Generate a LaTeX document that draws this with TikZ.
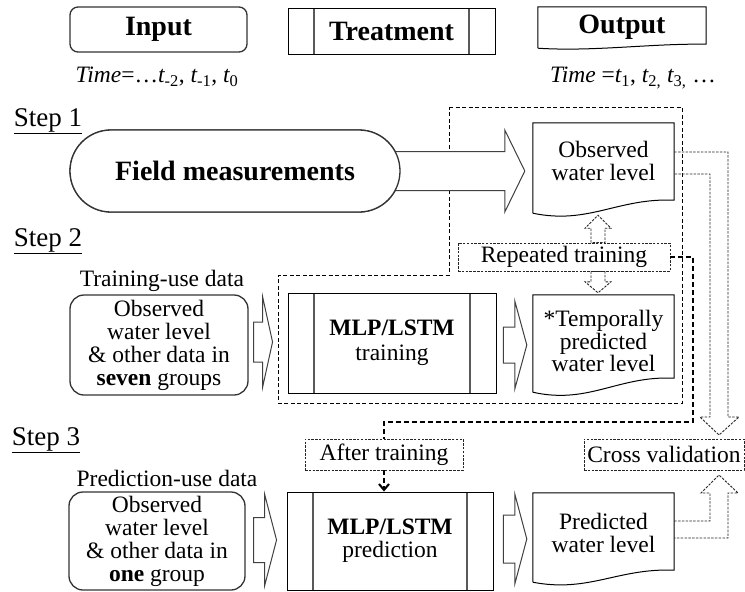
\documentclass[tikz,border=0pt]{standalone}
\usepackage{fontspec}
\setmainfont{Liberation Serif}
\usetikzlibrary{arrows.meta,calc,backgrounds}

% document outline with a wavy bottom edge
\newcommand{\docwave}[2]{%
  \draw[docline] (#1.south west) -- (#1.north west) -- (#1.north east) -- ([yshift=#2]#1.south east)
    .. controls ([xshift=-56pt,yshift=1.2*#2]#1.south east) and ([xshift=56pt,yshift=-0.9*#2]#1.south west) .. (#1.south west);}

% hollow block arrow, left to right
\newcommand{\hblockarrow}[5]{%
  \draw[blockarrow] let \p1=(#1), \p2=(#2) in
    (\x1,\y1+#3) -- (\x2-#5,\y1+#3) -- (\x2-#5,\y1+#4) -- (\x2,\y1)
    -- (\x2-#5,\y1-#4) -- (\x2-#5,\y1-#3) -- (\x1,\y1-#3) -- cycle;}

% hollow dotted block arrow, vertical
\newcommand{\vblockarrow}[5]{%
  \draw[dotarrow] let \p1=(#1), \p2=(#2) in
    (\x1-#3,\y1) -- (\x1-#3,\y2+#5) -- (\x1-#4,\y2+#5) -- (\x1,\y2)
    -- (\x1+#4,\y2+#5) -- (\x1+#3,\y2+#5) -- (\x1+#3,\y1) -- cycle;}

\begin{document}
\begin{tikzpicture}[x=1pt, y=-1pt,
  font=\fontsize{23.5}{23}\selectfont,
  every node/.style={inner sep=2pt},
  titlefont/.style={font=\fontsize{28}{28}\selectfont\bfseries},
  steplabel/.style={font=\fontsize{27}{27}\selectfont},
  roundbox/.style={draw=black!80, line width=1.3pt, rounded corners=14pt, align=center, fill=white},
  procbox/.style={draw, line width=0.9pt, align=center, fill=white,
    path picture={\draw[black!65, line width=1.1pt]
      ([xshift=26pt]path picture bounding box.north west) -- ([xshift=26pt]path picture bounding box.south west)
      ([xshift=-26pt]path picture bounding box.north east) -- ([xshift=-26pt]path picture bounding box.south east);}},
  docbox/.style={align=center, minimum width=141pt},
  docline/.style={draw, line width=1pt},
  notebox/.style={draw=black!85, line width=0.9pt, dash pattern=on 2.5pt off 1.3pt, inner xsep=3pt, fill=white},
  frameline/.style={line width=1pt, dash pattern=on 4pt off 2.5pt},
  blockarrow/.style={draw=black!75, line width=1pt, fill=white},
  dotarrow/.style={draw=black!85, line width=0.9pt, dash pattern=on 2.5pt off 1.3pt},
  trainlink/.style={line width=2pt, dash pattern=on 5pt off 3pt}]

  \useasboundingbox (0,0) rectangle (745,592);

  % Header
  \node[roundbox, rounded corners=8pt, titlefont, minimum width=177pt, minimum height=45pt] (input) at (158.5,29.5) {Input};
  \node[procbox, titlefont, minimum width=207pt, minimum height=46pt] (treat) at (391.5,31) {Treatment};
  \node[docbox, titlefont, minimum width=168pt, minimum height=41pt] (output) at (622,27.5) {Output};
  \docwave{output}{4pt}

  \node (tpast) at (157,77) {{\itshape Time}=…{\itshape t}\textsubscript{-2}, {\itshape t}\textsubscript{-1}, {\itshape t}\textsubscript{0}};
  \node (tnext) at (633,78) {{\itshape Time} ={\itshape t}\textsubscript{1}, {\itshape t}\textsubscript{2,} {\itshape t}\textsubscript{3,} …};

  % Step 1
  \node[steplabel] (step1) at (48,121) {\underline{Step 1}};
  \node[docbox, minimum height=90pt, text depth=15pt] (obs) at (603.5,168) {Observed\\water level};
  \docwave{obs}{13pt}

  \begin{scope}[on background layer]
    \draw[frameline] (449,107) -- (682,107) -- (682,403) -- (278,403) -- (278,275) -- (449,275) -- cycle;
    \node[draw=black!80, line width=1.3pt, rounded corners=41pt, minimum width=330pt, minimum height=82pt] (fieldtmp) at (235,171) {};
    \hblockarrow{[xshift=-6pt]fieldtmp.east}{[xshift=-8pt]obs.west}{19.5pt}{41pt}{20pt}
  \end{scope}
  \node[roundbox, rounded corners=41pt, titlefont, minimum width=330pt, minimum height=82pt] (field) at (235,171) {Field measurements};

  % Step 2
  \node[steplabel] (step2) at (48,241) {\underline{Step 2}};
  \node (tuse) at (162,281) {Training-use data};
  \node[roundbox, minimum width=178pt, minimum height=100pt] (tin) at (159,345)
    {Observed\\water level\\\& other data in\\\textbf{seven} groups};
  \node[procbox, minimum width=208pt, minimum height=100pt] (train) at (392,343)
    {\textbf{MLP/LSTM}\\[2pt]training};
  \node[docbox, minimum height=97pt, text depth=5pt, font=\fontsize{23.5}{20}\selectfont] (temp) at (603.5,343.5)
    {*Temporally\\predicted\\water level};
  \docwave{temp}{14pt}
  \node[notebox, minimum width=212pt, minimum height=28pt] (reptrain) at (564,257) {Repeated training};

  \hblockarrow{[xshift=5pt,yshift=3pt]tin.east}{[xshift=-15pt]train.west}{20pt}{45.5pt}{10pt}
  \hblockarrow{[xshift=7pt,yshift=-2pt]train.east}{[xshift=-6pt]temp.west}{18pt}{44pt}{12pt}
  \vblockarrow{[xshift=34pt]reptrain.north}{[yshift=-2pt]obs.south}{7pt}{13pt}{-13pt}
  \vblockarrow{[xshift=34pt]reptrain.south}{[yshift=2pt]temp.north}{7pt}{13pt}{11pt}

  % Step 3
  \node[steplabel] (step3) at (46,440) {\underline{Step 3}};
  \node (puse) at (167,478) {Prediction-use data};
  \node[roundbox, minimum width=176pt, minimum height=98pt] (pin) at (157,541)
    {Observed\\water level\\\& other data in\\\textbf{one} group};
  \node[procbox, minimum width=206pt, minimum height=98pt] (pred) at (390,541)
    {\textbf{MLP/LSTM}\\prediction};
  \node[docbox, minimum height=89pt, text depth=9pt] (pdoc) at (603.5,537.5) {Predicted\\water level};
  \docwave{pdoc}{12pt}
  \node[notebox, minimum width=158pt, minimum height=31pt] (after) at (384,454.5) {After training};
  \node[notebox, minimum width=160pt, minimum height=31pt] (cross) at (664,454.5) {Cross validation};

  \hblockarrow{[xshift=8pt,yshift=1pt]pin.east}{[xshift=-10pt]pred.west}{22.5pt}{46pt}{12pt}
  \hblockarrow{[xshift=10pt,yshift=2pt]pred.east}{[xshift=-6pt]pdoc.west}{24pt}{45pt}{12pt}

  % training loop to prediction
  \coordinate (loopbend) at (693,422);
  \draw[trainlink] (reptrain.east) -| (loopbend) -| (after.north);
  \draw[trainlink, -{Straight Barb[length=6pt,width=10pt]}] (after.south) -- (after.south |- pred.north);

  % cross validation
  \draw[dotarrow] ([yshift=16pt]obs.east) -- (728,152) -- (728,417) -- (739,417) -- (719,435)
    -- (700,417) -- (710,417) -- (710,174) -- ([yshift=-6pt]obs.east);
  \draw[dotarrow] ([yshift=16.5pt]pdoc.east) -- (710,521) -- (710,493) -- (701,493) -- (719,475)
    -- (738,493) -- (728,493) -- (728,538) -- ([yshift=-0.5pt]pdoc.east);
\end{tikzpicture}
\end{document}
